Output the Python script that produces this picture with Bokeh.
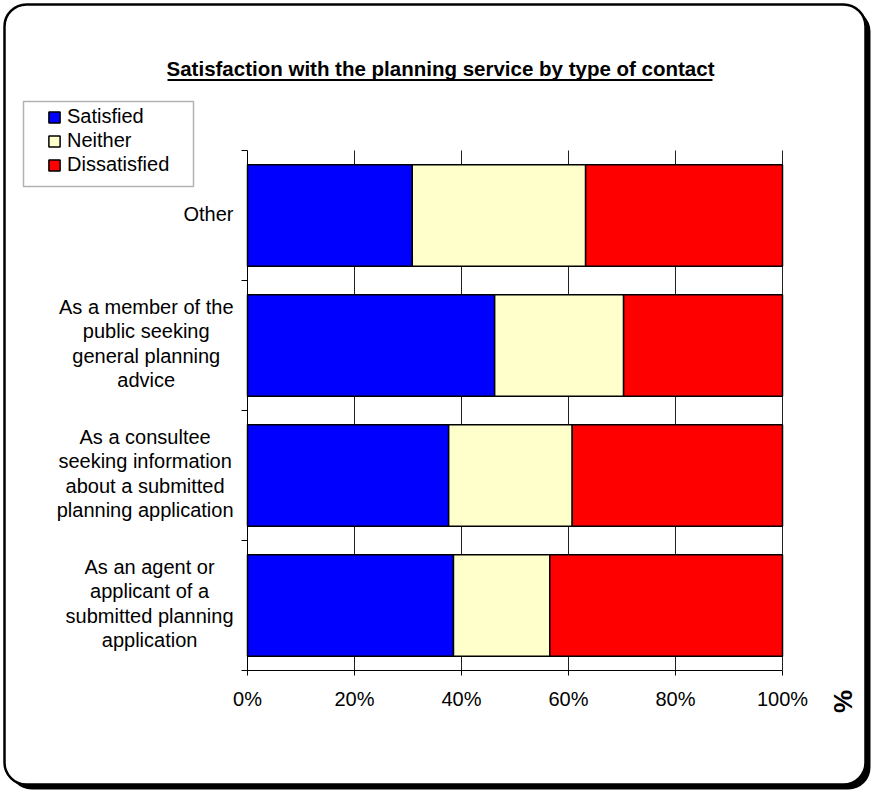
import math
from bokeh.plotting import figure
from bokeh.models import (ColumnDataSource, Range1d, FixedTicker, BoxAnnotation,
                          Label, Legend, LegendItem)
from bokeh.embed import file_html
from bokeh.resources import INLINE

# ---------------- data ----------------
categories = [
    "As an agent or\napplicant of a\nsubmitted planning\napplication",
    "As a consultee\nseeking information\nabout a submitted\nplanning application",
    "As a member of the\npublic seeking\ngeneral planning\nadvice",
    "Other",
]
series = ["Satisfied", "Neither", "Dissatisfied"]
satisfied = [38.5, 37.6, 46.2, 30.8]
neither = [18.0, 23.1, 24.1, 32.4]
dissatisfied = [43.5, 39.3, 29.7, 36.8]
x_ticks = [0, 20, 40, 60, 80, 100]
x_tick_labels = ["0%", "20%", "40%", "60%", "80%", "100%"]
colors = ["#0000FF", "#FFFFCC", "#FF0000"]
title_text = "Satisfaction with the planning service by type of contact"
axis_title = "%"

# ---------------- layout ----------------
W, H = 871, 795
L, R, T, B = 247, 782, 150, 670      # plot area in canvas pixels
FONT = "Liberation Sans"
FS = "20px"
n = len(categories)
X0, X1 = 0, 100
px_x = (R - L) / (X1 - X0)
px_y = (B - T) / n

p = figure(width=W, height=H,
           x_range=Range1d(X0 - L / px_x, X1 + (W - R) / px_x),
           y_range=Range1d(0 - (H - B) / px_y, n + T / px_y),
           output_backend="svg", toolbar_location=None, title=None,
           min_border=0)
p.outline_line_color = None
p.background_fill_color = "white"
p.border_fill_color = "white"
p.grid.visible = False


def canvas_box(**kw):
    return BoxAnnotation(left_units="canvas", right_units="canvas",
                         top_units="canvas", bottom_units="canvas", **kw)


# outer rounded frame with shadow
p.add_layout(canvas_box(left=9, right=870, top=9, bottom=789,
                        fill_color="black", fill_alpha=1, line_alpha=0,
                        border_radius=22, level="underlay"))
p.add_layout(canvas_box(left=4, right=865, top=4, bottom=784,
                        fill_color="white", fill_alpha=1, line_color="black",
                        line_alpha=1, line_width=2.5, border_radius=22,
                        level="underlay"))

# vertical gridlines (behind bars)
p.segment(x0=x_ticks[1:], y0=[0] * (len(x_ticks) - 1),
          x1=x_ticks[1:], y1=[n] * (len(x_ticks) - 1),
          line_color="#202020", line_width=1)

# bars
src = ColumnDataSource(dict(y=[i + 0.5 for i in range(n)],
                            Satisfied=satisfied, Neither=neither,
                            Dissatisfied=dissatisfied))
rs = p.hbar_stack(series, y="y", height=0.78, color=colors,
                  line_color="black", line_width=1.5, source=src)

# axes (drawn at fixed positions inside the canvas)
xa = p.xaxis[0]
xa.fixed_location = 0
xa.bounds = (X0, X1)
xa.ticker = FixedTicker(ticks=x_ticks)
xa.major_label_overrides = {t: s for t, s in zip(x_ticks, x_tick_labels)}
xa.major_tick_out = 5
xa.major_tick_in = 0
xa.minor_tick_line_color = None
xa.major_label_standoff = 12
xa.major_label_text_font = FONT
xa.major_label_text_font_size = FS
xa.major_label_text_color = "black"
xa.axis_line_color = "black"
xa.major_tick_line_color = "black"

ya = p.yaxis[0]
ya.fixed_location = X0
ya.bounds = (0, n)
ya.ticker = FixedTicker(ticks=[], minor_ticks=list(range(n + 1)))
ya.major_tick_out = 0
ya.major_tick_in = 0
ya.minor_tick_out = 6
ya.minor_tick_in = 0
ya.minor_tick_line_color = "black"
ya.axis_line_color = "black"

# category labels (multi-line, centred lines)
AW = {' ': .278, 'a': .556, 'b': .556, 'c': .5, 'd': .556, 'e': .556, 'f': .278,
      'g': .556, 'h': .556, 'i': .222, 'k': .5, 'l': .222, 'm': .833, 'n': .556,
      'o': .556, 'p': .556, 'r': .333, 's': .5, 't': .278, 'u': .556, 'v': .5,
      'w': .722, 'y': .5, 'A': .667, 'O': .778}


def text_w(s):
    return sum(AW.get(c, .6) for c in s) * 20


LINE_H = 24.5
for i, cat in enumerate(categories):
    lines = cat.split("\n")
    cx = 233 - max(text_w(s) for s in lines) / 2
    for j, s in enumerate(lines):
        p.add_layout(Label(x=cx, y=i + 0.5, x_units="canvas", y_units="data",
                           y_offset=((len(lines) - 1) / 2 - j) * LINE_H + 2,
                           text=s, text_align="center", text_baseline="middle",
                           text_font=FONT, text_font_size=FS, text_color="black"))

# title with underline
p.add_layout(Label(x=440, y=68, x_units="canvas", y_units="canvas",
                   text=title_text, text_align="center", text_baseline="middle",
                   text_font=FONT, text_font_size="20.5px", text_font_style="bold",
                   text_color="black"))
p.add_layout(canvas_box(left=167, right=712, top=78.5, bottom=80.5,
                        fill_color="black", fill_alpha=1, line_alpha=0,
                        level="annotation"))

# axis title "%"
p.add_layout(Label(x=842, y=701, x_units="canvas", y_units="canvas",
                   text=axis_title, angle=math.pi / 2, text_align="center",
                   text_baseline="middle", text_font=FONT, text_font_size="26px",
                   text_font_style="bold", text_color="black"))

# legend
p.add_layout(canvas_box(left=23, right=193, top=101, bottom=186,
                        fill_alpha=0, line_color="black", line_width=1.5,
                        level="annotation"))
legend = Legend(items=[LegendItem(label=s, renderers=[r]) for s, r in zip(series, rs)],
                location=(47, H - 176), orientation="vertical",
                glyph_width=14, glyph_height=14, label_height=20, label_standoff=6,
                spacing=1, padding=0, margin=0,
                border_line_alpha=0, background_fill_alpha=0,
                label_text_font=FONT, label_text_font_size=FS,
                label_text_color="black")
p.add_layout(legend)

open("out.html", "w").write(file_html(p, INLINE))
